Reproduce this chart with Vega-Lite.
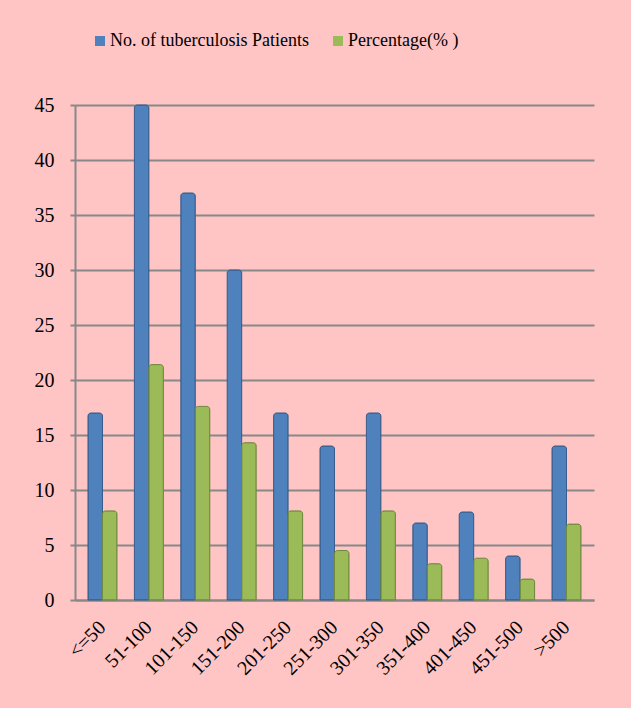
{
  "$schema": "https://vega.github.io/schema/vega-lite/v6.json",
  "autosize": {"type": "none"},
  "width": 519,
  "height": 495,
  "padding": {"left": 75, "top": 105, "right": 37, "bottom": 108},
  "background": "#FFC4C4",
  "data": {
    "values": [
      {"range": "<=50", "series": "No. of tuberculosis Patients", "value": 17},
      {"range": "51-100", "series": "No. of tuberculosis Patients", "value": 45},
      {"range": "101-150", "series": "No. of tuberculosis Patients", "value": 37},
      {"range": "151-200", "series": "No. of tuberculosis Patients", "value": 30},
      {"range": "201-250", "series": "No. of tuberculosis Patients", "value": 17},
      {"range": "251-300", "series": "No. of tuberculosis Patients", "value": 14},
      {"range": "301-350", "series": "No. of tuberculosis Patients", "value": 17},
      {"range": "351-400", "series": "No. of tuberculosis Patients", "value": 7},
      {"range": "401-450", "series": "No. of tuberculosis Patients", "value": 8},
      {"range": "451-500", "series": "No. of tuberculosis Patients", "value": 4},
      {"range": ">500", "series": "No. of tuberculosis Patients", "value": 14},
      {"range": "<=50", "series": "Percentage(% )", "value": 8.1},
      {"range": "51-100", "series": "Percentage(% )", "value": 21.4},
      {"range": "101-150", "series": "Percentage(% )", "value": 17.6},
      {"range": "151-200", "series": "Percentage(% )", "value": 14.3},
      {"range": "201-250", "series": "Percentage(% )", "value": 8.1},
      {"range": "251-300", "series": "Percentage(% )", "value": 4.5},
      {"range": "301-350", "series": "Percentage(% )", "value": 8.1},
      {"range": "351-400", "series": "Percentage(% )", "value": 3.3},
      {"range": "401-450", "series": "Percentage(% )", "value": 3.8},
      {"range": "451-500", "series": "Percentage(% )", "value": 1.9},
      {"range": ">500", "series": "Percentage(% )", "value": 6.9}
    ]
  },
  "mark": {"type": "bar", "strokeWidth": 1, "cornerRadiusTopLeft": 3, "cornerRadiusTopRight": 3},
  "encoding": {
    "x": {
      "field": "range", "type": "nominal", "sort": null,
      "scale": {"paddingInner": 0.375, "paddingOuter": 0.28},
      "axis": {
        "title": null, "labelAngle": -45, "labelAlign": "right", "labelBaseline": "middle",
        "labelPadding": 24, "ticks": false, "domainColor": "#888888", "domainWidth": 2,
        "labelFont": "Liberation Serif", "labelFontSize": 20, "labelColor": "#000000",
        "labelOverlap": false
      }
    },
    "xOffset": {"field": "series", "type": "nominal", "sort": null},
    "y": {
      "field": "value", "type": "quantitative",
      "scale": {"domain": [0, 45], "nice": false},
      "axis": {
        "title": null, "values": [0, 5, 10, 15, 20, 25, 30, 35, 40, 45],
        "grid": true, "gridColor": "#888888", "gridWidth": 2, "gridOpacity": 1,
        "domainColor": "#888888", "domainWidth": 2, "tickColor": "#888888", "tickWidth": 2,
        "tickSize": 5, "labelPadding": 16, "labelFont": "Liberation Serif",
        "labelFontSize": 20, "labelColor": "#000000"
      }
    },
    "color": {
      "field": "series", "type": "nominal", "sort": null,
      "scale": {"range": ["#4F81BD", "#9BBB59"]},
      "legend": {
        "title": null, "orient": "none", "legendX": 16, "legendY": -73,
        "direction": "horizontal", "symbolType": "square", "symbolSize": 100,
        "symbolStrokeWidth": 0, "labelFont": "Liberation Serif", "labelFontSize": 18,
        "labelColor": "#000000", "columnPadding": 20, "labelOffset": 1, "padding": 0,
        "labelLimit": 0
      }
    },
    "stroke": {
      "field": "series", "type": "nominal", "sort": null,
      "scale": {"range": ["#385D8A", "#71893F"]},
      "legend": null
    }
  },
  "config": {"view": {"stroke": null}}
}
